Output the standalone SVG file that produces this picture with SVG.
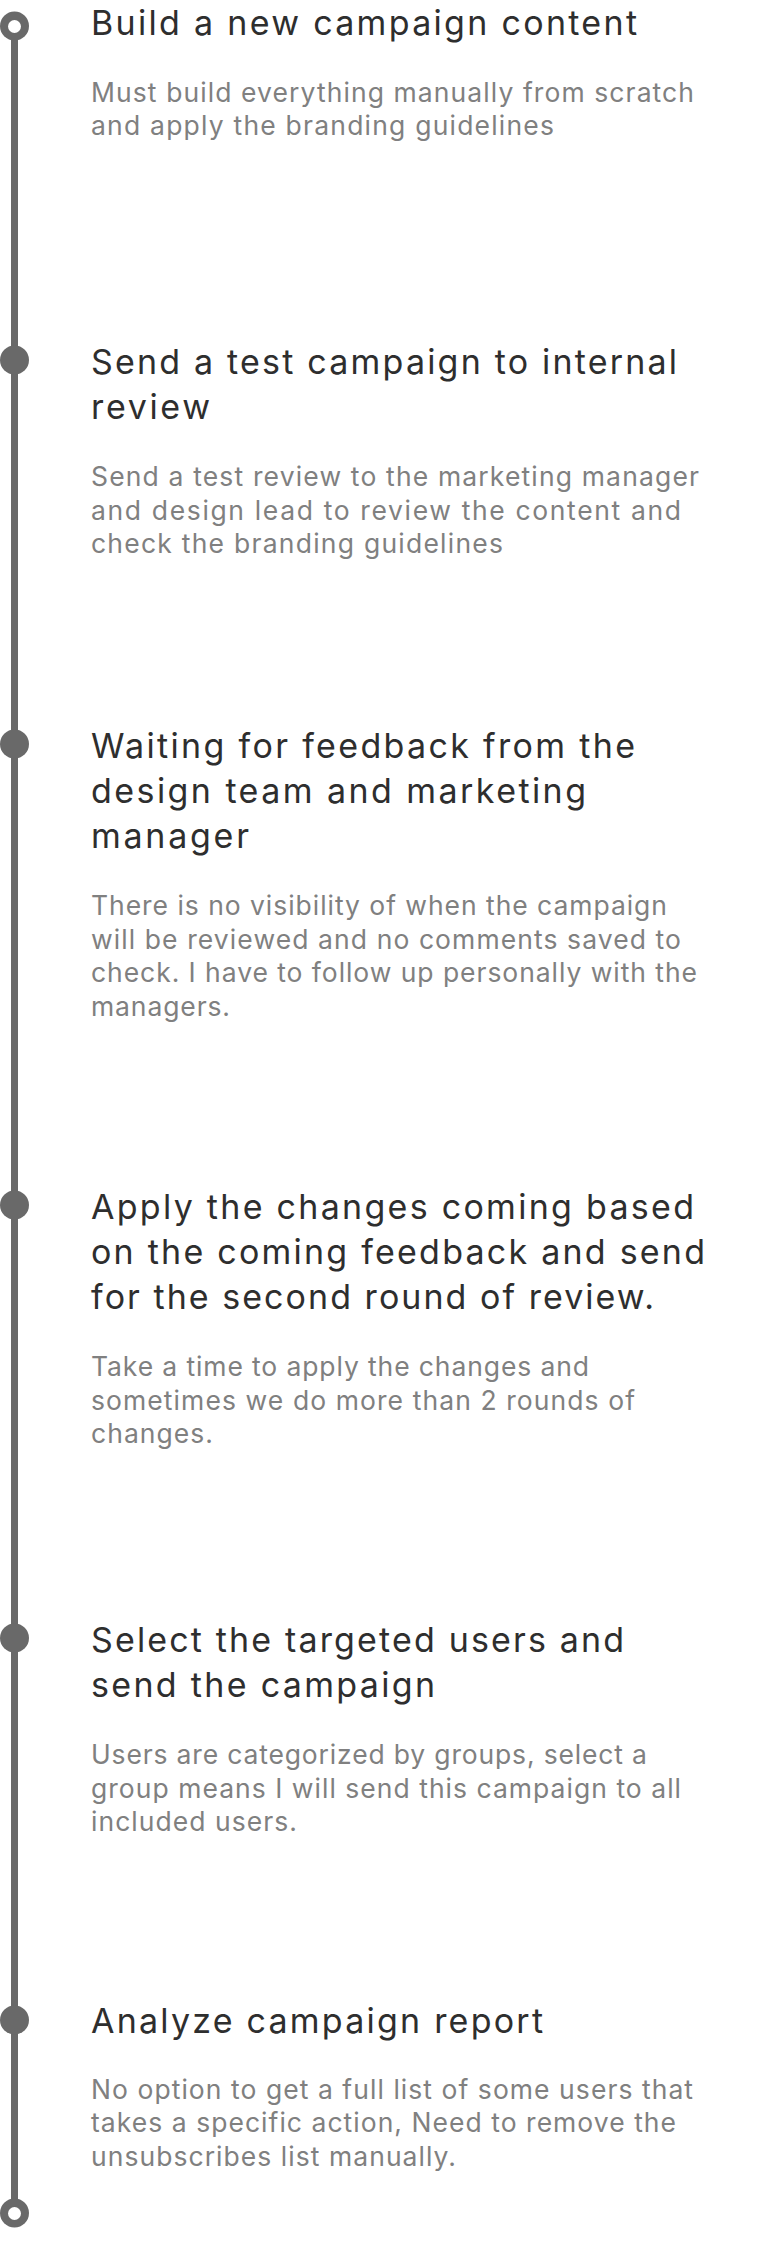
<svg xmlns="http://www.w3.org/2000/svg" width="777" height="2268" viewBox="0 0 777 2268">
<style>
.bg{fill:#ffffff}
.seg{stroke:#696969;stroke-width:7;fill:none}
.dot{fill:#696969}
.hole{fill:#ffffff}
.t{font-family:Inter,"Liberation Sans",sans-serif;font-size:34px;fill:#2e2e2e}
.d{font-family:Inter,"Liberation Sans",sans-serif;font-size:26.5px;fill:#808080}
</style>
<rect class="bg" x="0" y="0" width="777" height="2268"/>
<g id="connectors">
<line class="seg" x1="14.5" y1="26" x2="14.5" y2="360"/>
<line class="seg" x1="14.5" y1="360" x2="14.5" y2="744"/>
<line class="seg" x1="14.5" y1="744" x2="14.5" y2="1205"/>
<line class="seg" x1="14.5" y1="1205" x2="14.5" y2="1638"/>
<line class="seg" x1="14.5" y1="1638" x2="14.5" y2="2020"/>
<line class="seg" x1="14.5" y1="2020" x2="14.5" y2="2213"/>
</g>
<g id="start">
<circle class="dot" cx="14.5" cy="26" r="14.5"/>
<circle class="hole" cx="14.5" cy="26.5" r="6.5"/>
</g>
<g id="step1">
<text class="t" x="91" y="35" textLength="546">Build a new campaign content</text>
<text class="d" x="91" y="101.5" textLength="603">Must build everything manually from scratch</text>
<text class="d" x="91" y="135" textLength="463">and apply the branding guidelines</text>
</g>
<g id="step2">
<circle class="dot" cx="14.5" cy="360" r="14.5"/>
<text class="t" x="91" y="374" textLength="586">Send a test campaign to internal</text>
<text class="t" x="91" y="419" textLength="119">review</text>
<text class="d" x="91" y="486" textLength="608">Send a test review to the marketing manager</text>
<text class="d" x="91" y="519.5" textLength="590">and design lead to review the content and</text>
<text class="d" x="91" y="553" textLength="412">check the branding guidelines</text>
</g>
<g id="step3">
<circle class="dot" cx="14.5" cy="744" r="14.5"/>
<text class="t" x="91" y="758" textLength="544">Waiting for feedback from the</text>
<text class="t" x="91" y="803" textLength="495">design team and marketing</text>
<text class="t" x="91" y="848" textLength="158">manager</text>
<text class="d" x="91" y="915" textLength="576">There is no visibility of when the campaign</text>
<text class="d" x="91" y="948.5" textLength="590">will be reviewed and no comments saved to</text>
<text class="d" x="91" y="982" textLength="606">check. I have to follow up personally with the</text>
<text class="d" x="91" y="1015.5" textLength="139">managers.</text>
</g>
<g id="step4">
<circle class="dot" cx="14.5" cy="1205" r="14.5"/>
<text class="t" x="91" y="1219" textLength="603">Apply the changes coming based</text>
<text class="t" x="91" y="1264" textLength="614">on the coming feedback and send</text>
<text class="t" x="91" y="1309" textLength="563">for the second round of review.</text>
<text class="d" x="91" y="1376" textLength="498">Take a time to apply the changes and</text>
<text class="d" x="91" y="1409.5" textLength="544">sometimes we do more than 2 rounds of</text>
<text class="d" x="91" y="1443" textLength="122">changes.</text>
</g>
<g id="step5">
<circle class="dot" cx="14.5" cy="1638" r="14.5"/>
<text class="t" x="91" y="1652" textLength="533">Select the targeted users and</text>
<text class="t" x="91" y="1697" textLength="344">send the campaign</text>
<text class="d" x="91" y="1764" textLength="556">Users are categorized by groups, select a</text>
<text class="d" x="91" y="1797.5" textLength="590">group means I will send this campaign to all</text>
<text class="d" x="91" y="1831" textLength="206">included users.</text>
</g>
<g id="step6">
<circle class="dot" cx="14.5" cy="2020" r="14.5"/>
<text class="t" x="91" y="2033" textLength="452">Analyze campaign report</text>
<text class="d" x="91" y="2098.5" textLength="602">No option to get a full list of some users that</text>
<text class="d" x="91" y="2132" textLength="585">takes a specific action, Need to remove the</text>
<text class="d" x="91" y="2165.5" textLength="365">unsubscribes list manually.</text>
</g>
<g id="end">
<circle class="dot" cx="14.5" cy="2213" r="14.5"/>
<circle class="hole" cx="14.5" cy="2213.5" r="6.5"/>
</g>
</svg>
